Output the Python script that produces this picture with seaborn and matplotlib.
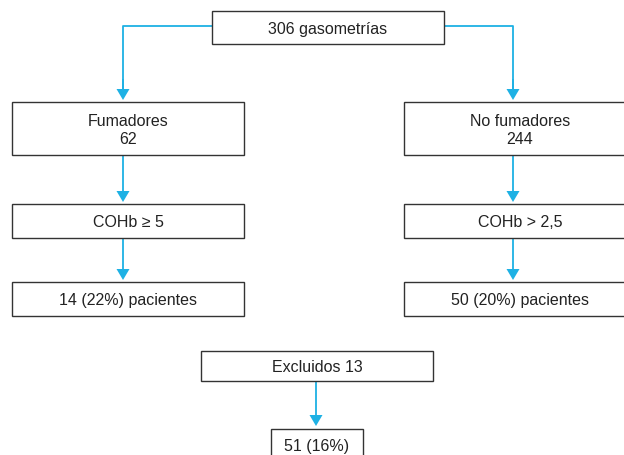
import matplotlib
matplotlib.use("Agg")
import matplotlib.pyplot as plt
import seaborn as sns
from matplotlib.patches import Rectangle, Polygon

# flow chart content
total_label = "306 gasometrías"
group_names = ["Fumadores", "No fumadores"]
group_counts = [62, 244]
cutoffs = ["COHb ≥ 5", "COHb > 2,5"]
positives = [14, 50]
positive_pct = [22, 20]
excluded = 13
final_count = 51
final_pct = 16

sns.set_theme(style="white")
plt.rcParams['font.family'] = ['Liberation Sans', 'DejaVu Sans']

ARROW = '#1eb1e4'
EDGE = '#333333'
FS = 11.5

fig = plt.figure(figsize=(6.24, 4.56), dpi=100)
ax = fig.add_axes([0, 0, 1, 1])
ax.set_xlim(0, 624)
ax.set_ylim(456, 0)
ax.axis('off')


def box(x0, y0, x1, y1, label):
    ax.add_patch(Rectangle((x0, y0), x1 - x0, y1 - y0, facecolor='white',
                           edgecolor=EDGE, lw=1.0, zorder=2))
    ax.text((x0 + x1) / 2, (y0 + y1) / 2 + 1, label, ha='center', va='center',
            fontsize=FS, color='#222222', zorder=3, linespacing=1.3)


def arrow(x, y0, y1):
    # shaft + filled triangular head, tip at y1
    ax.plot([x, x], [y0, y1 - 8], color=ARROW, lw=1.3, zorder=1,
            solid_capstyle='butt')
    ax.add_patch(Polygon([(x - 6.5, y1 - 11), (x + 6.5, y1 - 11), (x, y1)],
                         closed=True, facecolor=ARROW, edgecolor='none', zorder=1))


# top box and elbow connectors
box(212, 12, 444, 45, total_label)
arrow_x = [123, 513]
box_x = [(12, 244), (404, 636)]
ax.plot([212, arrow_x[0], arrow_x[0]], [27, 27, 90], color=ARROW, lw=1.3, zorder=1)
ax.plot([444, arrow_x[1], arrow_x[1]], [27, 27, 90], color=ARROW, lw=1.3, zorder=1)

for i in range(2):
    x0, x1 = box_x[i]
    xa = arrow_x[i]
    arrow(xa, 80, 101)
    box(x0, 103, x1, 156, f"{group_names[i]}\n{group_counts[i]}")
    arrow(xa, 156, 203)
    box(x0, 205, x1, 239, cutoffs[i])
    arrow(xa, 239, 281)
    box(x0, 283, x1, 317, f"{positives[i]} ({positive_pct[i]}%) pacientes")

box(201, 352, 433, 382, f"Excluidos {excluded}")
arrow(316, 382, 427)
box(271, 430, 363, 461, f"{final_count} ({final_pct}%)")

fig.savefig('out.png', dpi=100, facecolor='white')
